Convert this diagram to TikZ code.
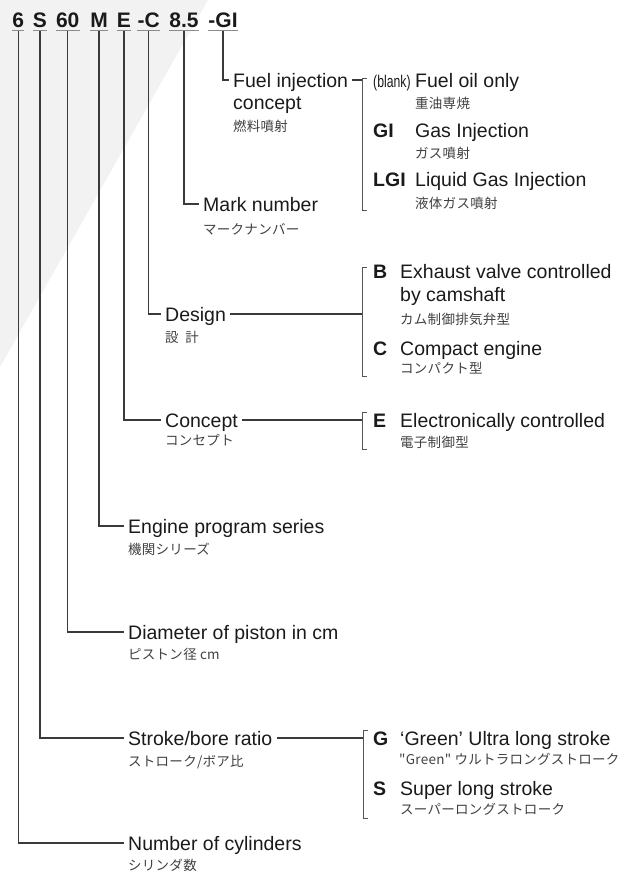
\documentclass[tikz,border=0pt]{standalone}
\usepackage{fontspec}
\setmainfont{Liberation Sans}
\newfontfamily\jpfont[LetterSpace=2]{Noto Sans CJK JP}
\definecolor{ink}{HTML}{1A1A1A}
\definecolor{jpgrey}{HTML}{404040}
\definecolor{linec}{HTML}{3A3A3A}
\definecolor{brkc}{HTML}{555555}
\definecolor{ulc}{HTML}{8C8C8C}
\definecolor{bgc}{HTML}{F2F2F2}
\begin{document}
\begin{tikzpicture}[x=1pt,y=-1pt,
  tok/.style={font=\bfseries\fontsize{21}{25}\selectfont, anchor=base, inner xsep=0pt, inner ysep=0pt, text depth=3.5pt, text=ink},
  uline/.style={draw=ulc, line width=1.2pt},
  conn/.style={draw=linec, line width=1.1pt},
  brk/.style={draw=brkc, line width=1pt},
  en/.style={font=\fontsize{19.5}{23}\selectfont, anchor=west, inner xsep=4pt, inner ysep=0pt, text height=14pt, text depth=0pt, text=ink},
  en2/.style={font=\fontsize{19.5}{23}\selectfont, anchor=base west, inner sep=0pt, text=ink},
  key/.style={font=\bfseries\fontsize{19.5}{23}\selectfont, anchor=base west, inner sep=0pt, text=ink},
  jp/.style={font=\jpfont\fontsize{13.5}{16}\selectfont, anchor=base west, inner sep=0pt, text=jpgrey}
]
\useasboundingbox (0,0) rectangle (623,873);
\fill[bgc] (0,0) -- (208,0) -- (0,367) -- cycle;

% code tokens
\node[tok] (t6)  at (18.3,27) {6};
\node[tok] (tS)  at (40,27) {S};
\node[tok] (t60) at (67.7,27) {60};
\node[tok] (tM)  at (99,27) {M};
\node[tok] (tE)  at (124,27) {E};
\node[tok] (tC)  at (148.7,27) {-C};
\node[tok] (t85) at (184,27) {8.5};
\node[tok] (tGI) at (223,27) {-GI};
\foreach \t in {t6,tS,t60,tM,tE,tC,t85,tGI}
  \draw[uline] (\t.south west) -- (\t.south east);

% labels
\node[en] (lFuel) at (229,80) {Fuel injection};
\node[en2] (lFuel2) at (233,109) {concept};
\node[jp] (jFuel) at (233,131.5) {燃料噴射};

\node[en] (lMark) at (199,204) {Mark number};
\node[jp] (jMark) at (203,234) {マークナンバー};

\node[en] (lDesign) at (161,314) {Design};
\node[jp] (jDesign) at (165,342.5) {設\enspace 計};

\node[en] (lConcept) at (161,420) {Concept};
\node[jp] (jConcept) at (165,445.5) {コンセプト};

\node[en] (lEngine) at (124,526) {Engine program series};
\node[jp] (jEngine) at (128,554.5) {機関シリーズ};

\node[en] (lDiam) at (124,632) {Diameter of piston in cm};
\node[jp] (jDiam) at (128,659.5) {ピストン径 cm};

\node[en] (lStroke) at (124,738) {Stroke/bore ratio};
\node[jp] (jStroke) at (128,766.5) {ストローク/ボア比};

\node[en] (lNum) at (124,843) {Number of cylinders};
\node[jp] (jNum) at (128,870) {シリンダ数};

% connectors from tokens
\draw[conn] (tGI.south) |- (lFuel.west);
\draw[conn] (t85.south) |- (lMark.west);
\draw[conn] (tC.south) |- (lDesign.west);
\draw[conn] (tE.south) |- (lConcept.west);
\draw[conn] (tM.south) |- (lEngine.west);
\draw[conn] (t60.south) |- (lDiam.west);
\draw[conn] (tS.south) |- (lStroke.west);
\draw[conn] (t6.south) |- (lNum.west);

% brackets
\coordinate (bF) at (362,80);
\coordinate (bF1) at (362,78);
\coordinate (bF2) at (362,210);
\coordinate (bD) at (362,314);
\coordinate (bD1) at (362,267);
\coordinate (bD2) at (362,376);
\coordinate (bC) at (362,420);
\coordinate (bC1) at (362,412);
\coordinate (bC2) at (362,449);
\coordinate (bS) at (363,738);
\coordinate (bS1) at (363,730);
\coordinate (bS2) at (363,818);
\foreach \a/\b in {bF1/bF2,bD1/bD2,bC1/bC2,bS1/bS2}
  \draw[brk] ([xshift=5pt]\a) -- (\a) -- (\b) -- ([xshift=5pt]\b);
\draw[conn] (lFuel.east) -- (bF);
\draw[conn] (lDesign.east) -- (bD);
\draw[conn] (lConcept.east) -- (bC);
\draw[conn] (lStroke.east) -- (bS);

% fuel injection options
\node[en2] (kBlank) at (373,87) {\fontsize{17}{20}\selectfont\scalebox{0.72}[1]{(blank)}};
\node[en2] (dFuel) at (415,87) {Fuel oil only};
\node[jp] (jdFuel) at (415,108) {重油専焼};
\node[key] (kGI) at (373,137.5) {GI};
\node[en2] (dGI) at (415,137.5) {Gas Injection};
\node[jp] (jdGI) at (415,158.5) {ガス噴射};
\node[key] (kLGI) at (373,186) {LGI};
\node[en2] (dLGI) at (415,186) {Liquid Gas Injection};
\node[jp] (jdLGI) at (415,208.5) {液体ガス噴射};

% design options
\node[key] (kB) at (373,278) {B};
\node[en2] (dB) at (400,278) {Exhaust valve controlled};
\node[en2] (dB2) at (400,301) {by camshaft};
\node[jp] (jdB) at (400,324.5) {カム制御排気弁型};
\node[key] (kC) at (373,355) {C};
\node[en2] (dC) at (400,355) {Compact engine};
\node[jp] (jdC) at (400,373.5) {コンパクト型};

% concept option
\node[key] (kE) at (373,427.5) {E};
\node[en2] (dE) at (400,427.5) {Electronically controlled};
\node[jp] (jdE) at (400,447) {電子制御型};

% stroke options
\node[key] (kG) at (373,745) {G};
\node[en2] (dG) at (400,745) {‘Green’ Ultra long stroke};
\node[jp] (jdG) at (399,764.5) {"Green" ウルトラロングストローク};
\node[key] (kS) at (373,795) {S};
\node[en2] (dS) at (400,795) {Super long stroke};
\node[jp] (jdS) at (400,814.5) {スーパーロングストローク};
\end{tikzpicture}
\end{document}
